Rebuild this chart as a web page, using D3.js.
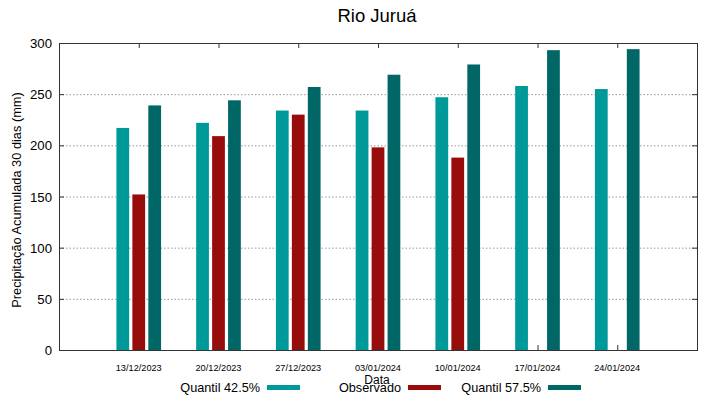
<!DOCTYPE html>
<html>
<head>
<meta charset="utf-8">
<script src="https://cdn.jsdelivr.net/npm/d3@7"></script>
<style>
  body { margin: 0; background: #fff; }
  svg { font-family: "Liberation Sans", Arial, sans-serif; display: block; }
</style>
</head>
<body>
<div id="chart"></div>
<script>
const dates = ["13/12/2023", "20/12/2023", "27/12/2023", "03/01/2024", "10/01/2024", "17/01/2024", "24/01/2024"];
const q425 = [217, 222, 234, 234, 247, 258, 255];
const observado = [152, 209, 230, 198, 188, null, null];
const q575 = [239, 244, 257, 269, 279, 293, 294];
const yTicks = [0, 50, 100, 150, 200, 250, 300];

const seriesList = [
    {name: "Quantil 42.5%", values: q425, color: "#009999"},
    {name: "Observado", values: observado, color: "#990c0c"},
    {name: "Quantil 57.5%", values: q575, color: "#006666"}
];

const width = 719, height = 399;
const margin = {top: 43, right: 22, bottom: 49, left: 59};
const plotW = width - margin.left - margin.right;
const plotH = height - margin.top - margin.bottom;

const svg = d3.select("#chart").append("svg")
    .attr("width", width)
    .attr("height", height);

const x = d3.scaleLinear().domain([-1, dates.length]).range([0, plotW]);
const y = d3.scaleLinear().domain([0, 300]).range([plotH, 0]);

const g = svg.append("g")
    .attr("transform", "translate(" + margin.left + "," + margin.top + ")");

// dotted grid
g.append("g")
    .selectAll("line")
    .data(yTicks.filter(t => t > 0 && t < 300))
    .enter()
    .append("line")
    .attr("x1", 0).attr("x2", plotW)
    .attr("y1", d => y(d) + 0.5).attr("y2", d => y(d) + 0.5)
    .attr("stroke", "#999")
    .attr("stroke-width", 1)
    .attr("stroke-dasharray", "1.5,2");

// bars
const barW = 0.16, step = 0.2;
seriesList.forEach((s, k) => {
    g.append("g")
        .selectAll("rect")
        .data(s.values.map((v, i) => ({v: v, i: i})).filter(d => d.v != null))
        .enter()
        .append("rect")
        .attr("x", d => x(d.i + (k - 1) * step - barW / 2))
        .attr("width", x(barW) - x(0))
        .attr("y", d => y(d.v))
        .attr("height", d => plotH - y(d.v))
        .attr("fill", s.color);
});

// ticks (gnuplot style, inward and mirrored)
const tickLen = 5;
const axisG = g.append("g").attr("stroke", "#333").attr("stroke-width", 1);
yTicks.forEach(t => {
    axisG.append("line").attr("x1", 0).attr("x2", tickLen).attr("y1", y(t) + 0.5).attr("y2", y(t) + 0.5);
    axisG.append("line").attr("x1", plotW - tickLen).attr("x2", plotW).attr("y1", y(t) + 0.5).attr("y2", y(t) + 0.5);
});
dates.forEach((d, i) => {
    axisG.append("line").attr("x1", x(i) + 0.5).attr("x2", x(i) + 0.5).attr("y1", 0).attr("y2", tickLen);
    axisG.append("line").attr("x1", x(i) + 0.5).attr("x2", x(i) + 0.5).attr("y1", plotH - tickLen).attr("y2", plotH);
});

// frame
g.append("rect")
    .attr("x", 0.5).attr("y", 0.5)
    .attr("width", plotW).attr("height", plotH)
    .attr("fill", "none")
    .attr("stroke", "#333")
    .attr("stroke-width", 1);

// y tick labels
g.append("g")
    .selectAll("text")
    .data(yTicks)
    .enter()
    .append("text")
    .attr("x", -7)
    .attr("y", d => y(d) + 5)
    .attr("text-anchor", "end")
    .attr("font-size", "13.2px")
    .attr("fill", "#000")
    .text(d => d);

// x tick labels
g.append("g")
    .selectAll("text")
    .data(dates)
    .enter()
    .append("text")
    .attr("x", (d, i) => x(i))
    .attr("y", plotH + 21)
    .attr("text-anchor", "middle")
    .attr("font-size", "9.2px")
    .attr("fill", "#000")
    .text(d => d);

// title
svg.append("text")
    .attr("x", 377).attr("y", 22)
    .attr("text-anchor", "middle")
    .attr("font-size", "18.5px")
    .text("Rio Juruá");

// axis titles
svg.append("text")
    .attr("x", 377).attr("y", 384)
    .attr("text-anchor", "middle")
    .attr("font-size", "12px")
    .text("Data");

svg.append("text")
    .attr("transform", "translate(21,200) rotate(-90)")
    .attr("text-anchor", "middle")
    .attr("font-size", "12.8px")
    .text("Precipitação Acumulada 30 dias (mm)");

// legend
const legendPos = [{tx: 260, sx: 267}, {tx: 401, sx: 408}, {tx: 541, sx: 548}];
const legend = svg.append("g");
seriesList.forEach((s, k) => {
    legend.append("text")
        .attr("x", legendPos[k].tx).attr("y", 392)
        .attr("text-anchor", "end")
        .attr("font-size", "12.7px")
        .text(s.name);
    legend.append("rect")
        .attr("x", legendPos[k].sx).attr("y", 385)
        .attr("width", 33).attr("height", 5)
        .attr("fill", s.color);
});
</script>
</body>
</html>
